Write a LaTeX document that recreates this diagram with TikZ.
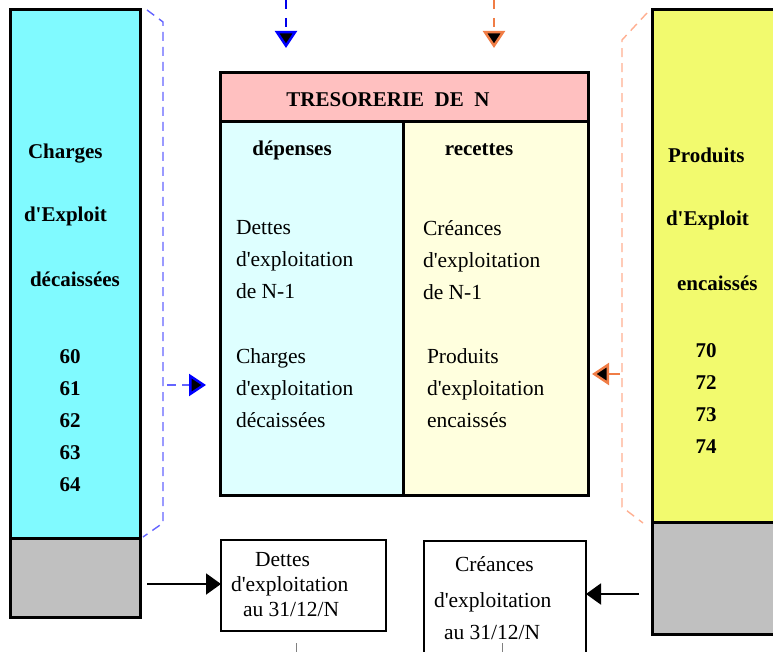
\documentclass[tikz,border=0pt]{standalone}
\usepackage{fontspec}
\setmainfont{Liberation Serif}[Ligatures=TeXOff]
\usetikzlibrary{arrows.meta}
\definecolor{cyancol}{RGB}{128,250,255}
\definecolor{lcyan}{RGB}{222,255,255}
\definecolor{pinkhd}{RGB}{255,192,192}
\definecolor{lyellow}{RGB}{255,255,222}
\definecolor{yellowcol}{RGB}{242,250,110}
\definecolor{graycol}{RGB}{192,192,192}
\definecolor{bluedash}{RGB}{100,100,255}
\definecolor{bluedark}{RGB}{0,0,235}
\definecolor{orangedash}{RGB}{255,175,145}
\definecolor{orangedark}{RGB}{240,125,70}
\begin{document}
\begin{tikzpicture}[x=1pt,y=-1pt,
  colbox/.style={draw=black, line width=3pt, inner sep=0pt, outer sep=0pt, anchor=north west},
  smallbox/.style={draw=black, line width=2pt, fill=white, inner sep=0pt, outer sep=0pt, anchor=north west},
  tx/.style={font=\fontsize{21.5}{32}\selectfont, inner sep=0pt, outer sep=0pt},
  bx/.style={font=\bfseries\fontsize{21}{32}\selectfont, inner sep=0pt, outer sep=0pt},
  sidebl/.style={draw=bluedash, line width=1.4pt, dash pattern=on 9pt off 6pt},
  sideor/.style={draw=orangedash, line width=1.4pt, dash pattern=on 9pt off 6pt},
  tipblue/.style={-{Triangle[length=17pt,width=22pt,line width=2.5pt,color=blue,fill=black]}},
  tiporange/.style={-{Triangle[length=17pt,width=22pt,line width=2.5pt,color=orangedark,fill=black]}},
  solidarrow/.style={draw=black, line width=2pt, -{Triangle[length=15pt,width=21pt]}}
]
\useasboundingbox (0,0) rectangle (773,652);
\clip (0,0) rectangle (773,652);

% left column
\node[colbox, fill=cyancol, minimum width=130pt, minimum height=528pt] (lc) at (10,10) {};
\node[colbox, fill=graycol, minimum width=130pt, minimum height=79pt] (lg) at (10,538) {};
% right column
\node[colbox, fill=yellowcol, minimum width=135pt, minimum height=512pt] (rc) at (652,10) {};
\node[colbox, fill=graycol, minimum width=135pt, minimum height=112pt] (rg) at (652,522) {};

% main box
\node[colbox, fill=pinkhd, minimum width=368pt, minimum height=49pt] (hd) at (220,73) {};
\node[colbox, fill=lcyan, minimum width=183pt, minimum height=373pt] (dep) at (220,122) {};
\node[colbox, fill=lyellow, minimum width=185pt, minimum height=373pt] (rec) at (403,122) {};

% bottom boxes
\node[smallbox, minimum width=165pt, minimum height=91pt] (bl) at (221,540) {};
\node[smallbox, minimum width=162pt, minimum height=130pt] (br) at (424,541) {};

% left column texts
\node[bx, anchor=mid west] (c1) at (28,156) {Charges};
\node[bx, anchor=mid west] (c2) at (24,219) {d'Exploit};
\node[bx, anchor=mid west] (c3) at (30,284) {décaissées};
\node[bx, align=center] (cn) at (70,421) {60\\61\\62\\63\\64};
% right column texts
\node[bx, anchor=mid west] (p1) at (668,160) {Produits};
\node[bx, anchor=mid west] (p2) at (666,223) {d'Exploit};
\node[bx, anchor=mid west] (p3) at (677,288) {encaissés};
\node[bx, align=center] (pn) at (706,399) {70\\72\\73\\74};

% main box texts
\node[bx] (hdt) at (388,100) {TRESORERIE\ \ DE\ \ N};
\node[bx] (dept) at (292,150) {dépenses};
\node[bx] (rect) at (479,150) {recettes};
\node[tx, align=left, anchor=west] (d1) at (236,260) {Dettes\\d'exploitation\\de N-1};
\node[tx, align=left, anchor=west] (d2) at (236,388) {Charges\\d'exploitation\\décaissées};
\node[tx, align=left, anchor=west] (r1) at (423,260) {Créances\\d'exploitation\\de N-1};
\node[tx, align=left, anchor=west] (r2) at (427,388) {Produits\\d'exploitation\\encaissés};

% bottom box texts
\node[tx, anchor=mid west] (bl1) at (255,564) {Dettes};
\node[tx, anchor=mid west] (bl2) at (231,589) {d'exploitation};
\node[tx, anchor=mid west] (bl3) at (243,614) {au 31/12/N};
\node[tx, anchor=mid west] (br1) at (455,569) {Créances};
\node[tx, anchor=mid west] (br2) at (434,605) {d'exploitation};
\node[tx, anchor=mid west] (br3) at (444,637) {au 31/12/N};

% dashed brackets
\coordinate (lb1) at (147,10);
\coordinate (lb2) at (163,22);
\coordinate (lb3) at (163,523);
\coordinate (lb4) at (143,537);
\draw[sidebl] (lb1) -- (lb2) -- (lb3) -- (lb4);
\coordinate (rb1) at (647,13);
\coordinate (rb2) at (622,40);
\coordinate (rb3) at (622,507);
\coordinate (rb4) at (643,523);
\draw[sideor] (rb1) -- (rb2) -- (rb3) -- (rb4);

% dashed arrows
\coordinate (lsa) at (167,385);
\coordinate (lse) at (206,385);
\draw[draw=bluedash, line width=1.4pt, dash pattern=on 9pt off 6pt, tipblue] (lsa) -- (lse);
\coordinate (rsa) at (620,374);
\coordinate (rse) at (592,374);
\draw[draw=orangedark, line width=1.4pt, tiporange] (rsa) -- (rse);
\coordinate (tb0) at (286,0);
\coordinate (tb1) at (286,48);
\draw[draw=bluedark, line width=1.4pt, dash pattern=on 9pt off 9pt, tipblue] (tb0) -- (tb1);
\coordinate (to0) at (494,0);
\coordinate (to1) at (494,48);
\draw[draw=orangedark, line width=1.4pt, dash pattern=on 9pt off 9pt, tiporange] (to0) -- (to1);

% solid arrows
\coordinate (la) at (147,584);
\draw[solidarrow] (la) -- (la -| bl.west);
\coordinate (ra) at (639,594);
\draw[solidarrow] (ra) -- (ra -| br.east);

% bottom ticks
\coordinate (t1a) at (296,643);
\coordinate (t1b) at (296,652);
\draw[gray, line width=1pt] (t1a) -- (t1b);
\coordinate (t2a) at (502,643);
\coordinate (t2b) at (502,652);
\draw[gray, line width=1pt] (t2a) -- (t2b);
\end{tikzpicture}
\end{document}
